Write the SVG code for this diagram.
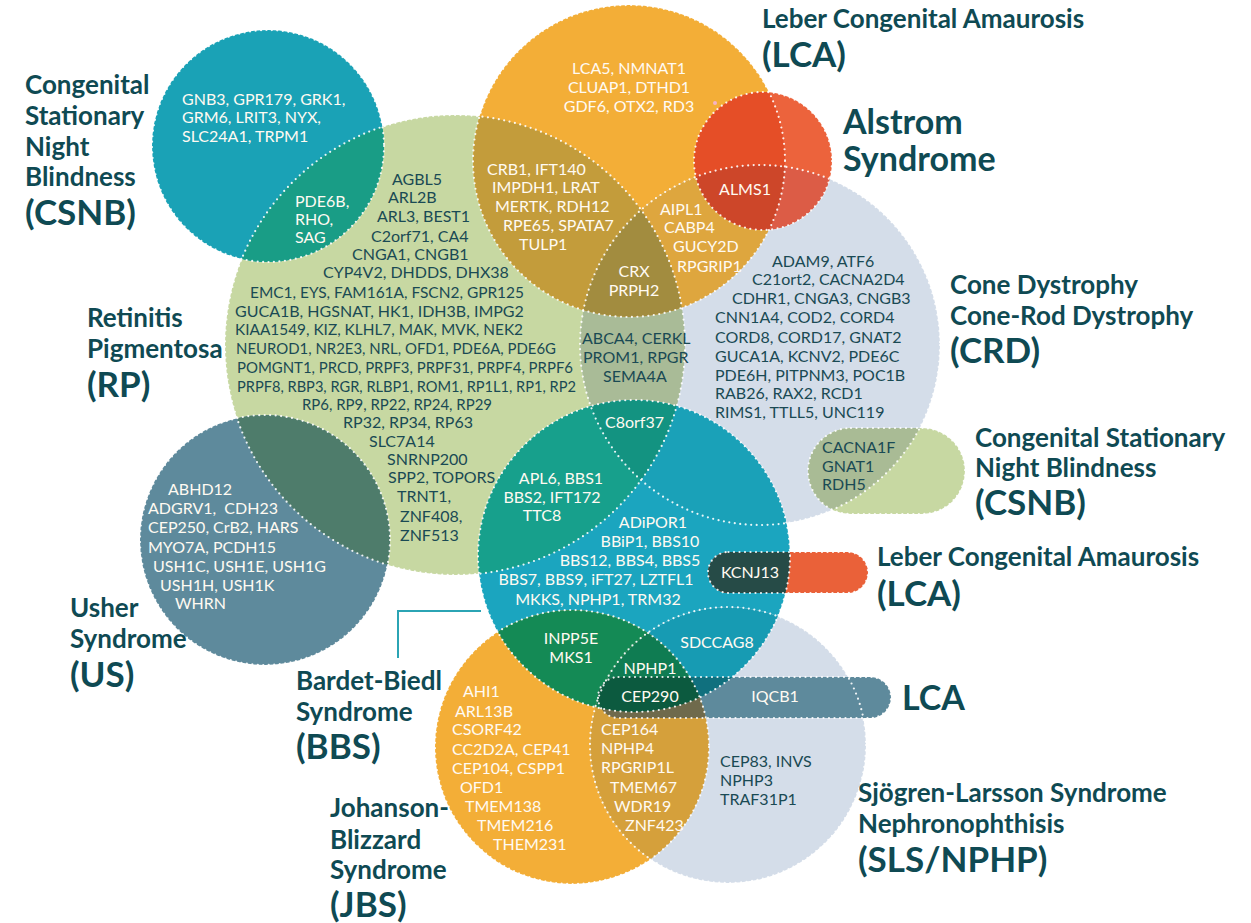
<svg xmlns="http://www.w3.org/2000/svg" width="1251" height="923" viewBox="0 0 1251 923">
  <style>
    text { font-family: Lato, "Noto Sans", "Liberation Sans", sans-serif; }
    .gd { font-size: 16px; fill: #1a4a54; }
    .gw { font-size: 16px; fill: #fffaf2; }
    .lab { font-size: 26px; font-weight: 700; fill: #0f4a53; }
    .big { font-size: 35px; font-weight: 700; fill: #0f4a53; }
    .mid { text-anchor: middle; }
    .dot { fill: none; stroke: #ffffff; stroke-width: 2.2; stroke-dasharray: 0 5.5; stroke-linecap: round; opacity: 0.9; }
  </style>
  <defs>
    <clipPath id="c-rp"><circle cx="455" cy="345" r="230"/></clipPath>
    <clipPath id="c-cs"><circle cx="268" cy="146" r="116"/></clipPath>
    <clipPath id="c-lca"><circle cx="629" cy="161" r="156"/></clipPath>
    <clipPath id="c-crd"><circle cx="760" cy="345" r="180"/></clipPath>
    <clipPath id="c-alm"><circle cx="763" cy="161" r="69"/></clipPath>
    <clipPath id="c-us"><circle cx="265" cy="540" r="125"/></clipPath>
    <clipPath id="c-bbs"><circle cx="634" cy="556" r="156"/></clipPath>
    <clipPath id="c-jbs"><circle cx="572" cy="747" r="137"/></clipPath>
    <clipPath id="c-sls"><circle cx="728" cy="745" r="138"/></clipPath>
    <clipPath id="c-p3"><rect x="598" y="677" width="293" height="41" rx="20.5"/></clipPath>
  </defs>

  <rect width="1251" height="923" fill="#ffffff"/>

  <!-- base fills of every set -->
  <g id="fills">
    <circle cx="455" cy="345" r="230" fill="#c7d8a2"/>
    <circle cx="268" cy="146" r="116" fill="#1aa2b6"/>
    <circle cx="629" cy="161" r="156" fill="#f3ae37"/>
    <circle cx="760" cy="345" r="180" fill="#d4dde9"/>
    <circle cx="763" cy="161" r="69" fill="#ec633c"/>
    <circle cx="265" cy="540" r="125" fill="#5e8a9c"/>
    <circle cx="634" cy="556" r="156" fill="#1ba5bf"/>
    <circle cx="572" cy="747" r="137" fill="#f3ae37"/>
    <circle cx="728" cy="745" r="138" fill="#d4dde9"/>
    <rect x="808" y="428" width="157" height="86" rx="43" fill="#c7d8a2"/>
    <rect x="708" y="552" width="160" height="41" rx="20.5" fill="#ea6139"/>
    <rect x="598" y="677" width="293" height="41" rx="20.5" fill="#5e8a9c"/>
  </g>

  <!-- shared regions -->
  <g id="overlaps">
    <g clip-path="url(#c-rp)"><circle cx="268" cy="146" r="116" fill="#199d86"/></g>
    <g clip-path="url(#c-rp)"><circle cx="629" cy="161" r="156" fill="#c39c3b"/></g>
    <g clip-path="url(#c-rp)"><circle cx="760" cy="345" r="180" fill="#a9bb97"/></g>
    <g clip-path="url(#c-lca)"><circle cx="760" cy="345" r="180" fill="#dea63e"/></g>
    <g clip-path="url(#c-rp)"><g clip-path="url(#c-lca)"><circle cx="760" cy="345" r="180" fill="#a28c3f"/></g></g>
    <g clip-path="url(#c-alm)"><circle cx="629" cy="161" r="156" fill="#e54e27"/></g>
    <g clip-path="url(#c-alm)"><circle cx="760" cy="345" r="180" fill="#dc5c46"/></g>
    <g clip-path="url(#c-alm)"><g clip-path="url(#c-lca)"><circle cx="760" cy="345" r="180" fill="#cd4629"/></g></g>
    <g clip-path="url(#c-rp)"><circle cx="265" cy="540" r="125" fill="#4e7c6b"/></g>
    <g clip-path="url(#c-bbs)"><circle cx="455" cy="345" r="230" fill="#17a08c"/></g>
    <g clip-path="url(#c-bbs)"><circle cx="760" cy="345" r="180" fill="#1aa1b8"/></g>
    <g clip-path="url(#c-bbs)"><g clip-path="url(#c-rp)"><circle cx="760" cy="345" r="180" fill="#139381"/></g></g>
    <g clip-path="url(#c-bbs)"><circle cx="572" cy="747" r="137" fill="#148a55"/></g>
    <g clip-path="url(#c-bbs)"><circle cx="728" cy="745" r="138" fill="#179bb3"/></g>
    <g clip-path="url(#c-jbs)"><circle cx="728" cy="745" r="138" fill="#d5a03b"/></g>
    <g clip-path="url(#c-bbs)"><g clip-path="url(#c-jbs)"><circle cx="728" cy="745" r="138" fill="#0f7c52"/></g></g>
    <g clip-path="url(#c-crd)"><rect x="808" y="428" width="157" height="86" rx="43" fill="#a9bb95"/></g>
    <g clip-path="url(#c-bbs)"><rect x="708" y="552" width="160" height="41" rx="20.5" fill="#264b47"/></g>
    <g clip-path="url(#c-p3)"><circle cx="634" cy="556" r="156" fill="#10707e"/></g>
    <g clip-path="url(#c-p3)"><circle cx="572" cy="747" r="137" fill="#6f6a4c"/></g>
    <g clip-path="url(#c-p3)"><g clip-path="url(#c-bbs)"><circle cx="572" cy="747" r="137" fill="#0c5a3f"/></g></g>
  </g>

  <!-- dotted set outlines -->
  <g id="outlines">
    <circle class="dot" cx="455" cy="345" r="230"/>
    <circle class="dot" cx="268" cy="146" r="116"/>
    <circle class="dot" cx="629" cy="161" r="156"/>
    <circle class="dot" cx="760" cy="345" r="180"/>
    <circle class="dot" cx="763" cy="161" r="69"/>
    <circle class="dot" cx="265" cy="540" r="125"/>
    <circle class="dot" cx="634" cy="556" r="156"/>
    <circle class="dot" cx="572" cy="747" r="137"/>
    <circle class="dot" cx="728" cy="745" r="138"/>
    <rect class="dot" x="808" y="428" width="157" height="86" rx="43"/>
    <rect class="dot" x="708" y="552" width="160" height="41" rx="20.5"/>
    <rect class="dot" x="598" y="677" width="293" height="41" rx="20.5"/>
    <circle cx="715" cy="103" r="2" fill="#f5b3c6"/>
  </g>

  <g id="connectors">
    <path d="M481,611 H398 V658" fill="none" stroke="#2ba4b4" stroke-width="2"/>
  </g>

  <g id="csnb">
    <text class="lab" x="25" y="94">Congenital</text>
    <text class="lab" x="25" y="125">Stationary</text>
    <text class="lab" x="25" y="156">Night</text>
    <text class="lab" x="25" y="186">Blindness</text>
    <text class="big" x="25" y="225">(CSNB)</text>
    <text class="gw" x="182" y="105">GNB3, GPR179, GRK1,</text>
    <text class="gw" x="182" y="123">GRM6, LRIT3, NYX,</text>
    <text class="gw" x="182" y="142">SLC24A1, TRPM1</text>
    <text class="gw" x="295" y="207">PDE6B,</text>
    <text class="gw" x="295" y="225">RHO,</text>
    <text class="gw" x="295" y="243">SAG</text>
  </g>

  <g id="rp">
    <text class="lab" x="87" y="327">Retinitis</text>
    <text class="lab" x="87" y="358">Pigmentosa</text>
    <text class="big" x="87" y="397">(RP)</text>
    <text class="gd" x="392" y="185">AGBL5</text>
    <text class="gd" x="388" y="203">ARL2B</text>
    <text class="gd" x="377" y="222">ARL3, BEST1</text>
    <text class="gd" x="371" y="242">C2orf71, CA4</text>
    <text class="gd" x="352" y="260">CNGA1, CNGB1</text>
    <text class="gd" x="323" y="278">CYP4V2, DHDDS, DHX38</text>
    <text class="gd" x="250" y="298" textLength="274" lengthAdjust="spacingAndGlyphs">EMC1, EYS, FAM161A, FSCN2, GPR125</text>
    <text class="gd" x="235" y="317">GUCA1B, HGSNAT, HK1, IDH3B, IMPG2</text>
    <text class="gd" x="235" y="335" textLength="288" lengthAdjust="spacingAndGlyphs">KIAA1549, KIZ, KLHL7, MAK, MVK, NEK2</text>
    <text class="gd" x="236" y="354" textLength="320" lengthAdjust="spacingAndGlyphs">NEUROD1, NR2E3, NRL, OFD1, PDE6A, PDE6G</text>
    <text class="gd" x="237" y="373" textLength="336" lengthAdjust="spacingAndGlyphs">POMGNT1, PRCD, PRPF3, PRPF31, PRPF4, PRPF6</text>
    <text class="gd" x="237" y="392" textLength="339" lengthAdjust="spacingAndGlyphs">PRPF8, RBP3, RGR, RLBP1, ROM1, RP1L1, RP1, RP2</text>
    <text class="gd" x="302" y="410" textLength="190" lengthAdjust="spacingAndGlyphs">RP6, RP9, RP22, RP24, RP29</text>
    <text class="gd" x="343" y="428">RP32, RP34, RP63</text>
    <text class="gd" x="369" y="447">SLC7A14</text>
    <text class="gd" x="387" y="465">SNRNP200</text>
    <text class="gd" x="388" y="483">SPP2, TOPORS</text>
    <text class="gd" x="397" y="502">TRNT1,</text>
    <text class="gd" x="400" y="522">ZNF408,</text>
    <text class="gd" x="400" y="541">ZNF513</text>
  </g>

  <g id="lca-top">
    <text class="lab" x="762" y="28">Leber Congenital Amaurosis</text>
    <text class="big" x="762" y="67">(LCA)</text>
    <text class="gw mid" x="629" y="74">LCA5, NMNAT1</text>
    <text class="gw mid" x="629" y="93">CLUAP1, DTHD1</text>
    <text class="gw mid" x="629" y="112">GDF6, OTX2, RD3</text>
    <text class="gw" x="487" y="175">CRB1, IFT140</text>
    <text class="gw" x="492" y="193">IMPDH1, LRAT</text>
    <text class="gw" x="495" y="212">MERTK, RDH12</text>
    <text class="gw" x="503" y="231">RPE65, SPATA7</text>
    <text class="gw" x="519" y="250">TULP1</text>
    <text class="gw" x="660" y="215">AIPL1</text>
    <text class="gw" x="664" y="233">CABP4</text>
    <text class="gw" x="673" y="252">GUCY2D</text>
    <text class="gw" x="677" y="272">RPGRIP1</text>
    <text class="gw mid" x="634" y="277">CRX</text>
    <text class="gw mid" x="634" y="296">PRPH2</text>
  </g>

  <g id="alstrom">
    <text class="big" x="843" y="134" style="font-size:34px">Alstrom</text>
    <text class="big" x="843" y="171" style="font-size:34px">Syndrome</text>
    <text class="gw mid" x="745" y="195">ALMS1</text>
  </g>

  <g id="crd">
    <text class="lab" x="950" y="294">Cone Dystrophy</text>
    <text class="lab" x="950" y="325">Cone-Rod Dystrophy</text>
    <text class="big" x="950" y="363">(CRD)</text>
    <text class="gd" x="772" y="267">ADAM9, ATF6</text>
    <text class="gd" x="752" y="285">C21ort2, CACNA2D4</text>
    <text class="gd" x="732" y="304">CDHR1, CNGA3, CNGB3</text>
    <text class="gd" x="715" y="323">CNN1A4, COD2, CORD4</text>
    <text class="gd" x="715" y="343">CORD8, CORD17, GNAT2</text>
    <text class="gd" x="715" y="362">GUCA1A, KCNV2, PDE6C</text>
    <text class="gd" x="715" y="381">PDE6H, PITPNM3, POC1B</text>
    <text class="gd" x="715" y="399">RAB26, RAX2, RCD1</text>
    <text class="gd" x="715" y="418">RIMS1, TTLL5, UNC119</text>
    <text class="gd" x="582" y="344">ABCA4, CERKL</text>
    <text class="gd" x="583" y="363">PROM1, RPGR</text>
    <text class="gd" x="603" y="382">SEMA4A</text>
  </g>

  <g id="csnb-pill">
    <text class="lab" x="975" y="447">Congenital Stationary</text>
    <text class="lab" x="975" y="477">Night Blindness</text>
    <text class="big" x="975" y="515">(CSNB)</text>
    <text class="gd" x="822" y="453">CACNA1F</text>
    <text class="gd" x="822" y="472">GNAT1</text>
    <text class="gd" x="822" y="490">RDH5</text>
  </g>

  <g id="lca-pill">
    <text class="lab" x="877" y="566">Leber Congenital Amaurosis</text>
    <text class="big" x="877" y="606">(LCA)</text>
    <text class="gw mid" x="750" y="578">KCNJ13</text>
  </g>

  <g id="bbs">
    <text class="lab" x="296" y="690">Bardet-Biedl</text>
    <text class="lab" x="296" y="721">Syndrome</text>
    <text class="big" x="296" y="759">(BBS)</text>
    <text class="gw" x="605" y="428">C8orf37</text>
    <text class="gw mid" x="561" y="484">APL6, BBS1</text>
    <text class="gw mid" x="552" y="503">BBS2, IFT172</text>
    <text class="gw mid" x="542" y="521">TTC8</text>
    <text class="gw mid" x="653" y="528">ADiPOR1</text>
    <text class="gw mid" x="650" y="547">BBiP1, BBS10</text>
    <text class="gw mid" x="630" y="566">BBS12, BBS4, BBS5</text>
    <text class="gw mid" x="596" y="585">BBS7, BBS9, iFT27, LZTFL1</text>
    <text class="gw mid" x="598" y="605">MKKS, NPHP1, TRM32</text>
    <text class="gw mid" x="571" y="644">INPP5E</text>
    <text class="gw mid" x="571" y="663">MKS1</text>
    <text class="gw mid" x="717" y="648">SDCCAG8</text>
    <text class="gw mid" x="650" y="674">NPHP1</text>
  </g>

  <g id="usher">
    <text class="lab" x="70" y="617">Usher</text>
    <text class="lab" x="70" y="648">Syndrome</text>
    <text class="big" x="70" y="687">(US)</text>
    <text class="gw" x="168" y="495">ABHD12</text>
    <text class="gw" x="148" y="514" style="white-space:pre">ADGRV1,  CDH23</text>
    <text class="gw" x="148" y="533">CEP250, CrB2, HARS</text>
    <text class="gw" x="148" y="553">MYO7A, PCDH15</text>
    <text class="gw" x="153" y="572">USH1C, USH1E, USH1G</text>
    <text class="gw" x="160" y="591">USH1H, USH1K</text>
    <text class="gw" x="175" y="609">WHRN</text>
  </g>

  <g id="lca-pill-2">
    <text class="big" x="902" y="710" style="font-size:34px">LCA</text>
    <text class="gw mid" x="650" y="702">CEP290</text>
    <text class="gw mid" x="775" y="702">IQCB1</text>
  </g>

  <g id="jbs">
    <text class="lab" x="330" y="817">Johanson-</text>
    <text class="lab" x="330" y="849">Blizzard</text>
    <text class="lab" x="330" y="879">Syndrome</text>
    <text class="big" x="330" y="917">(JBS)</text>
    <text class="gw" x="463" y="697">AHI1</text>
    <text class="gw" x="455" y="717">ARL13B</text>
    <text class="gw" x="452" y="735">CSORF42</text>
    <text class="gw" x="452" y="755">CC2D2A, CEP41</text>
    <text class="gw" x="452" y="774">CEP104, CSPP1</text>
    <text class="gw" x="460" y="793">OFD1</text>
    <text class="gw" x="465" y="812">TMEM138</text>
    <text class="gw" x="477" y="831">TMEM216</text>
    <text class="gw" x="493" y="850">THEM231</text>
    <text class="gw" x="601" y="735">CEP164</text>
    <text class="gw" x="601" y="754">NPHP4</text>
    <text class="gw" x="601" y="773">RPGRIP1L</text>
    <text class="gw" x="610" y="793">TMEM67</text>
    <text class="gw" x="614" y="812">WDR19</text>
    <text class="gw" x="625" y="831">ZNF423</text>
  </g>

  <g id="sls-nphp">
    <text class="lab" x="858" y="802">Sjögren-Larsson Syndrome</text>
    <text class="lab" x="858" y="833">Nephronophthisis</text>
    <text class="big" x="858" y="872">(SLS/NPHP)</text>
    <text class="gd" x="720" y="767">CEP83, INVS</text>
    <text class="gd" x="720" y="786">NPHP3</text>
    <text class="gd" x="720" y="805">TRAF31P1</text>
  </g>
</svg>
